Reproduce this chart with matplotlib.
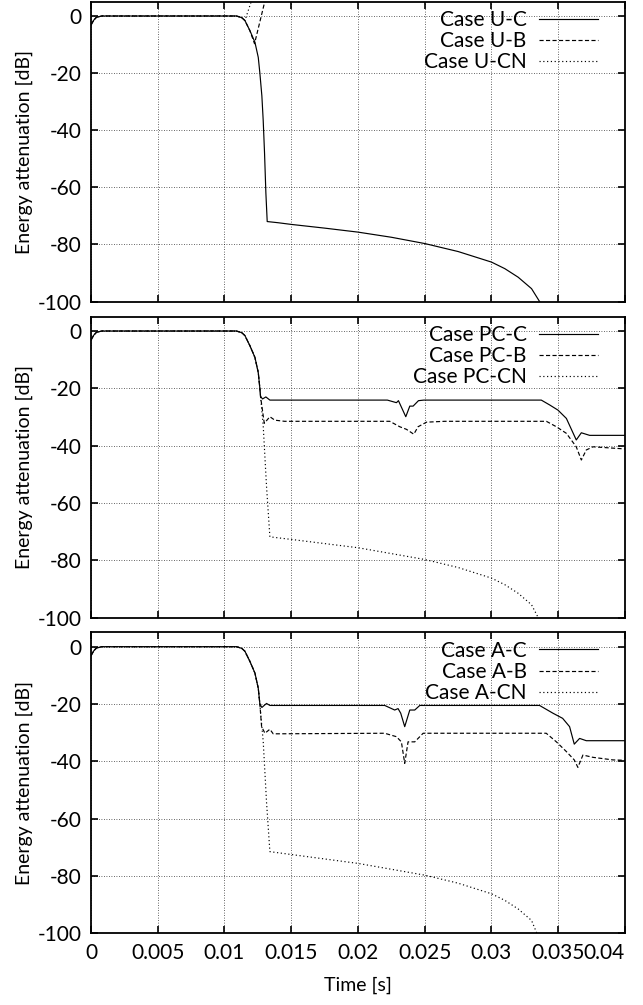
import matplotlib
matplotlib.use('Agg')
import matplotlib.pyplot as plt
from matplotlib.ticker import FuncFormatter

plt.rcParams['font.family'] = ['Lato', 'DejaVu Sans']
plt.rcParams['font.size'] = 15

# Common start-up transient and first roll-off (identical for all cases)
T_START = [0, 0.0002, 0.0004, 0.0008, 0.0109, 0.0113, 0.01153, 0.0119, 0.01228, 0.01253, 0.01265]
V_START = [-3.2, -1.5, -0.5, 0, 0, -0.6, -1.6, -5.1, -9.2, -14.5, -20]

# Case U
T_UC = [0.0128, 0.0129, 0.0130, 0.0131, 0.0132, 0.014, 0.015, 0.0175, 0.02, 0.0225,
        0.025, 0.0275, 0.03, 0.031, 0.032, 0.033, 0.0336, 0.0338]
V_UC = [-28, -36.6, -48, -62, -72, -72.4, -73, -74.3, -75.7, -77.5,
        -79.7, -82.5, -86.2, -88.5, -91.5, -95.5, -100, -102]
T_UB = [0.01225, 0.0126, 0.013, 0.0134]
V_UB = [-9.7, -3, 4.7, 12]
T_UCN = [0.01153, 0.012, 0.0125]
V_UCN = [-1.6, 5, 15]

# Case PC
T_PCC = [0.0127, 0.01285, 0.0131, 0.0134, 0.0222, 0.02288, 0.02303, 0.02358, 0.02388,
         0.02413, 0.02453, 0.02493, 0.03373, 0.03436, 0.03498, 0.03561, 0.03635,
         0.03673, 0.03735, 0.0405]
V_PCC = [-22.8, -23.7, -23, -24.1, -24.1, -25, -24.3, -29.9, -26.2,
         -26.2, -24.3, -24.1, -24.1, -25.8, -27.6, -30.5, -38,
         -35.5, -36.4, -36.4]
T_PCB = [0.0127, 0.01298, 0.0134, 0.01377, 0.0145, 0.02238, 0.02313, 0.02363, 0.02418,
         0.0245, 0.02513, 0.0265, 0.03411, 0.03486, 0.03561, 0.03635, 0.03673,
         0.0371, 0.0376, 0.0386, 0.0405]
V_PCB = [-22.8, -32.2, -29.9, -31.1, -31.5, -31.5, -33.4, -34.3, -36,
         -33.4, -31.8, -31.5, -31.5, -33.4, -35.7, -40.4, -45,
         -41.5, -40.4, -40.7, -41.3]
T_PCCN = [0.0127, 0.0129, 0.01315, 0.0134, 0.015, 0.02, 0.025, 0.0275, 0.03,
          0.031, 0.032, 0.033, 0.0335, 0.0338]
V_PCCN = [-22.8, -33, -54.3, -71.8, -72.7, -75.6, -79.7, -82.5, -86.2,
          -88.5, -91.5, -95.5, -100, -103]

# Case A
T_AC = [0.0128, 0.01315, 0.0134, 0.022, 0.02275, 0.023, 0.0232, 0.0235, 0.02388,
        0.02425, 0.02463, 0.0336, 0.0346, 0.03533, 0.03585, 0.0362, 0.0366,
        0.0371, 0.0405]
V_AC = [-21.2, -19.8, -20.5, -20.5, -22.1, -21.6, -23.2, -27.9, -22.1,
        -22.1, -20.5, -20.5, -23.2, -25, -27.9, -34, -32,
        -32.8, -32.8]
T_AB = [0.01278, 0.01303, 0.0134, 0.01365, 0.022, 0.02288, 0.02325, 0.0235, 0.02375,
        0.02425, 0.02488, 0.0341, 0.03486, 0.03561, 0.0362, 0.03647, 0.03685,
        0.0376, 0.0391, 0.0405]
V_AB = [-27.9, -30.2, -28.8, -30.4, -30.2, -31.4, -33.2, -40.7, -33.2,
        -33.2, -30.2, -30.2, -33.2, -36.6, -39.5, -42.1, -37.8,
        -38.6, -39.5, -39.7]
T_ACN = [0.0127, 0.0129, 0.01315, 0.0134, 0.015, 0.02, 0.025, 0.0275, 0.03,
         0.031, 0.032, 0.033, 0.0334, 0.0337]
V_ACN = [-22.8, -33, -54.3, -71.5, -72.5, -75.6, -79.7, -82.5, -86.2,
         -88.5, -91.5, -95.5, -100, -103]

X_TICKS = [0, 0.005, 0.01, 0.015, 0.02, 0.025, 0.03, 0.035, 0.04]
Y_TICKS = [0, -20, -40, -60, -80, -100]

PANELS = [
    ('U', (T_UC, V_UC, 11), (T_UB, V_UB, 8), (T_UCN, V_UCN, 6)),
    ('PC', (T_PCC, V_PCC, 11), (T_PCB, V_PCB, 11), (T_PCCN, V_PCCN, 11)),
    ('A', (T_AC, V_AC, 11), (T_AB, V_AB, 11), (T_ACN, V_ACN, 11)),
]

# axes boxes in figure fractions (left, bottom, width, height)
BOXES = [
    (0.1415, 0.7000, 0.8305, 0.2983),
    (0.1415, 0.3854, 0.8305, 0.2995),
    (0.1415, 0.0713, 0.8305, 0.2995),
]

STYLES = [('C', '-'), ('B', (0, (3.5, 2))), ('CN', (0, (1, 2.2)))]


def fmt(v, pos):
    return '%g' % v


fig = plt.figure(figsize=(6.43, 10.05), dpi=100)

for i, (case, *series) in enumerate(PANELS):
    ax = fig.add_axes(BOXES[i])
    for (t, v, n), (suffix, ls) in zip(series, STYLES):
        # n = how many start-up points this case shares with the others
        ax.plot(T_START[:n] + t, V_START[:n] + v, color='black', lw=0.85,
                linestyle=ls, label='Case %s-%s' % (case, suffix))

    ax.set_xlim(0, 0.04)
    ax.set_ylim(-100, 5)
    ax.set_xticks(X_TICKS)
    ax.set_yticks(Y_TICKS)
    ax.xaxis.set_major_formatter(FuncFormatter(fmt))
    ax.yaxis.set_major_formatter(FuncFormatter(fmt))
    ax.grid(True, color='black', linestyle=(0, (1, 2)), lw=0.6, alpha=0.8)
    ax.tick_params(direction='in', length=5, width=1.2, top=True, right=True,
                   labelsize=15, pad=7)
    for s in ax.spines.values():
        s.set_linewidth(1.3)
    ax.set_ylabel('Energy attenuation [dB]', fontsize=14, labelpad=3)

    if i < 2:
        ax.tick_params(labelbottom=False)
    else:
        ax.set_xlabel('Time [s]', fontsize=14, labelpad=10)
        labels = ax.get_xticklabels()
        labels[-1].set_horizontalalignment('right')

    leg = ax.legend(loc='upper right', frameon=False, markerfirst=False,
                    handlelength=2.8, handletextpad=0.6, labelspacing=0.05,
                    borderaxespad=0.25, bbox_to_anchor=(0.974, 1.017), fontsize=15)

fig.savefig('out.png', dpi=100)
